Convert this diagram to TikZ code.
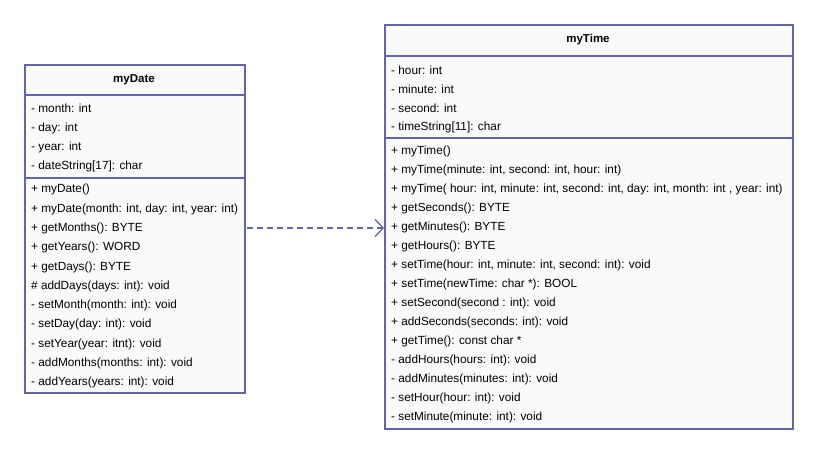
\documentclass[tikz,border=0pt]{standalone}
\usepackage{fontspec}
\setmainfont{Liberation Sans}
\usetikzlibrary{arrows.meta}
\definecolor{umlline}{HTML}{6464AA}
\definecolor{umlfill}{HTML}{FAFAFA}
\tikzset{
  umlbox/.style={draw=umlline, fill=umlfill, line width=1.6pt, rectangle, anchor=north west, inner sep=0pt},
  sepline/.style={draw=umlline, line width=1.6pt},
  member/.style={anchor=west, inner sep=0pt, font=\fontsize{11.8}{13}\selectfont, text=black},
  title/.style={inner sep=0pt, font=\fontsize{11.5}{13}\selectfont\bfseries, text=black},
  dep/.style={draw=umlline, line width=1.3pt, dash pattern=on 6pt off 4pt, -{Straight Barb[length=8pt,width=17pt,line width=1.3pt]}}
}
\begin{document}
\begin{tikzpicture}[x=1pt,y=-1pt]
\useasboundingbox (0,0) rectangle (813,457);
% myDate
\node[umlbox, minimum width=220pt, minimum height=328pt] (date) at (24,64) {};
\draw[sepline] (24,95) -- (244,95);
\draw[sepline] (24,178) -- (244,178);
\node[title] (dt) at (134,79.5) {myDate};
\node[member] (d1) at (31,108.5) {- month: int};
\node[member] (d2) at (31,128.5) {- day: int};
\node[member] (d3) at (31,147.5) {- year: int};
\node[member] (d4) at (31,166.5) {- dateString[17]: char};
\node[member] (d5) at (31,189.5) {+ myDate()};
\node[member] (d6) at (31,209.5) {+ myDate(month: int, day: int, year: int)};
\node[member] (d7) at (31,228.5) {+ getMonths(): BYTE};
\node[member] (d8) at (31,247.5) {+ getYears(): WORD};
\node[member] (d9) at (31,267.5) {+ getDays(): BYTE};
\node[member] (d10) at (31,286.5) {\# addDays(days: int): void};
\node[member] (d11) at (31,305.5) {- setMonth(month: int): void};
\node[member] (d12) at (31,324.5) {- setDay(day: int): void};
\node[member] (d13) at (31,344.5) {- setYear(year: itnt): void};
\node[member] (d14) at (31,363.5) {- addMonths(months: int): void};
\node[member] (d15) at (31,382.5) {- addYears(years: int): void};
% myTime
\node[umlbox, minimum width=408pt, minimum height=404pt] (time) at (384,24) {};
\draw[sepline] (384,56) -- (792,56);
\draw[sepline] (384,138) -- (792,138);
\node[title] (tt) at (588,39.5) {myTime};
\node[member] (t1) at (391,70.5) {- hour: int};
\node[member] (t2) at (391,89.5) {- minute: int};
\node[member] (t3) at (391,108.5) {- second: int};
\node[member] (t4) at (391,127.5) {- timeString[11]: char};
\node[member] (m1) at (391,151.5) {+ myTime()};
\node[member] (m2) at (391,170.5) {+ myTime(minute: int, second: int, hour: int)};
\node[member] (m3) at (391,189.5) {+ myTime( hour: int, minute: int, second: int, day: int, month: int , year: int)};
\node[member] (m4) at (391,208.5) {+ getSeconds(): BYTE};
\node[member] (m5) at (391,227.5) {+ getMinutes(): BYTE};
\node[member] (m6) at (391,246.5) {+ getHours(): BYTE};
\node[member] (m7) at (391,265.5) {+ setTime(hour: int, minute: int, second: int): void};
\node[member] (m8) at (391,284.5) {+ setTime(newTime: char *): BOOL};
\node[member] (m9) at (391,303.5) {+ setSecond(second : int): void};
\node[member] (m10) at (391,322.5) {+ addSeconds(seconds: int): void};
\node[member] (m11) at (391,341.5) {+ getTime(): const char *};
\node[member] (m12) at (391,360.5) {- addHours(hours: int): void};
\node[member] (m13) at (391,379.5) {- addMinutes(minutes: int): void};
\node[member] (m14) at (391,398.5) {- setHour(hour: int): void};
\node[member] (m15) at (391,417.5) {- setMinute(minute: int): void};
% dependency
\coordinate (a1) at (247,228);
\coordinate (a2) at (384,228);
\draw[dep] (a1) -- (a2);
\end{tikzpicture}
\end{document}
